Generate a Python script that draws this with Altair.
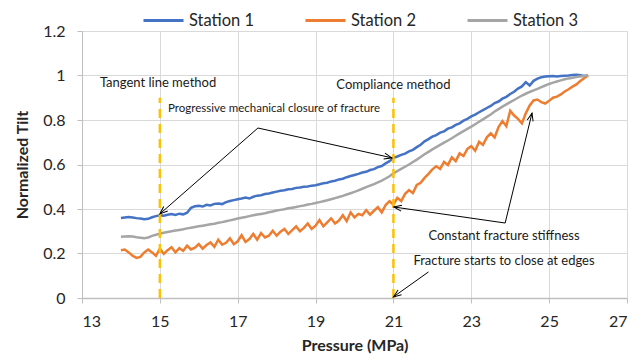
import math
import altair as alt
import pandas as pd

# ---------------- data ----------------
pressure = [round(14.0 + 0.1 * i, 1) for i in range(121)]

station1 = [
    0.360, 0.362, 0.364, 0.362, 0.359, 0.357, 0.354, 0.356, 0.363, 0.368,
    0.372, 0.370, 0.374, 0.377, 0.373, 0.379, 0.376, 0.383, 0.405, 0.412,
    0.414, 0.411, 0.419, 0.416, 0.423, 0.425, 0.422, 0.431, 0.436, 0.440,
    0.444, 0.447, 0.451, 0.447, 0.455, 0.460, 0.462, 0.467, 0.470, 0.474,
    0.478, 0.482, 0.484, 0.489, 0.490, 0.495, 0.497, 0.500, 0.501, 0.505,
    0.507, 0.511, 0.516, 0.518, 0.524, 0.527, 0.533, 0.536, 0.543, 0.548,
    0.553, 0.558, 0.564, 0.567, 0.575, 0.579, 0.588, 0.593, 0.605, 0.615,
    0.630, 0.636, 0.643, 0.649, 0.659, 0.666, 0.678, 0.689, 0.704, 0.714,
    0.725, 0.732, 0.743, 0.749, 0.761, 0.767, 0.778, 0.785, 0.797, 0.805,
    0.816, 0.824, 0.835, 0.844, 0.854, 0.863, 0.876, 0.883, 0.896, 0.904,
    0.917, 0.927, 0.941, 0.951, 0.970, 0.955, 0.976, 0.986, 0.992, 0.995,
    0.997, 0.998, 0.996, 0.998, 0.999, 1.000, 1.002, 1.003, 1.001, 0.998,
    1.000,
]

station2 = [
    0.215, 0.218, 0.205, 0.190, 0.180, 0.185, 0.205, 0.218, 0.205, 0.190,
    0.222, 0.198, 0.215, 0.228, 0.205, 0.224, 0.212, 0.235, 0.218, 0.226,
    0.242, 0.222, 0.238, 0.250, 0.230, 0.262, 0.240, 0.248, 0.268, 0.242,
    0.255, 0.282, 0.252, 0.265, 0.288, 0.262, 0.292, 0.272, 0.280, 0.302,
    0.280, 0.298, 0.310, 0.288, 0.305, 0.322, 0.300, 0.315, 0.335, 0.310,
    0.325, 0.350, 0.322, 0.340, 0.358, 0.335, 0.348, 0.372, 0.345, 0.385,
    0.362, 0.378, 0.372, 0.395, 0.375, 0.392, 0.408, 0.385, 0.418, 0.435,
    0.420, 0.450, 0.436, 0.468, 0.485, 0.472, 0.508, 0.518, 0.540, 0.558,
    0.578, 0.592, 0.580, 0.612, 0.598, 0.632, 0.615, 0.650, 0.638, 0.670,
    0.682, 0.662, 0.702, 0.688, 0.722, 0.740, 0.722, 0.768, 0.795, 0.772,
    0.842, 0.820, 0.805, 0.785, 0.830, 0.865, 0.888, 0.892, 0.880, 0.874,
    0.886, 0.900, 0.905, 0.915, 0.928, 0.938, 0.950, 0.960, 0.975, 0.988,
    1.000,
]

station3 = [
    0.275, 0.276, 0.277, 0.276, 0.273, 0.271, 0.269, 0.272, 0.279, 0.284,
    0.289, 0.293, 0.297, 0.300, 0.303, 0.306, 0.309, 0.313, 0.316, 0.319,
    0.322, 0.325, 0.328, 0.331, 0.334, 0.338, 0.341, 0.345, 0.349, 0.353,
    0.357, 0.361, 0.364, 0.368, 0.372, 0.375, 0.378, 0.381, 0.385, 0.389,
    0.393, 0.396, 0.399, 0.403, 0.406, 0.409, 0.413, 0.416, 0.420, 0.423,
    0.427, 0.431, 0.435, 0.439, 0.444, 0.449, 0.454, 0.459, 0.465, 0.471,
    0.477, 0.484, 0.491, 0.498, 0.505, 0.512, 0.520, 0.528, 0.537, 0.547,
    0.560, 0.570, 0.580, 0.590, 0.600, 0.611, 0.622, 0.634, 0.646, 0.657,
    0.668, 0.678, 0.688, 0.698, 0.708, 0.718, 0.729, 0.740, 0.750, 0.760,
    0.770, 0.781, 0.792, 0.803, 0.814, 0.825, 0.838, 0.849, 0.860, 0.870,
    0.880, 0.890, 0.900, 0.910, 0.918, 0.926, 0.933, 0.940, 0.948, 0.955,
    0.962, 0.968, 0.973, 0.978, 0.983, 0.987, 0.990, 0.993, 0.996, 0.998,
    1.000,
]

series_names = ["Station 1", "Station 2", "Station 3"]
series_colors = ["#4472C4", "#ED7D31", "#A5A5A5"]

x_ticks = [13, 15, 17, 19, 21, 23, 25, 27]
y_ticks = [0, 0.2, 0.4, 0.6, 0.8, 1.0, 1.2]

# vertical dashed marker lines
marker_x = [15, 21]
marker_top = [0.9, 0.9]

# annotation texts
note_text = ["Tangent line method", "Compliance method",
             "Progressive mechanical closure of fracture",
             "Constant fracture stiffness",
             "Fracture starts to close at edges"]
note_x = [13.46, 21.0, 15.21, 23.84, 23.84]
note_y = [0.966, 0.957, 0.849, 0.279, 0.166]
note_align = ["left", "center", "left", "center", "center"]
note_size = [13, 13, 11.5, 13, 13]

# arrows (tail -> head)
arrow_x1 = [17.52, 17.52, 23.87, 23.87, 21.90]
arrow_y1 = [0.764, 0.764, 0.337, 0.337, 0.117]
arrow_x2 = [15.00, 20.96, 21.01, 24.56, 21.00]
arrow_y2 = [0.378, 0.630, 0.409, 0.831, 0.005]

# ---------------- layout ----------------
W, H = 545, 267
X_DOM = [13, 27]
Y_DOM = [0, 1.2]

rows = []
for name, vals in zip(series_names, [station1, station2, station3]):
    for p, v in zip(pressure, vals):
        rows.append({"pressure": p, "value": v, "station": name})
lines_df = pd.DataFrame(rows)

markers_df = pd.DataFrame({"x": marker_x, "y0": [0, 0], "y1": marker_top})
notes_df = pd.DataFrame({"x": note_x, "y": note_y, "text": note_text,
                         "align": note_align, "size": note_size})

px_x = W / (X_DOM[1] - X_DOM[0])
px_y = H / (Y_DOM[1] - Y_DOM[0])
angles = []
for a, b, c, d in zip(arrow_x1, arrow_y1, arrow_x2, arrow_y2):
    dx = (c - a) * px_x
    dy = -(d - b) * px_y
    angles.append(math.degrees(math.atan2(dx, -dy)) % 360)
arrows_df = pd.DataFrame({"x1": arrow_x1, "y1": arrow_y1, "x2": arrow_x2,
                          "y2": arrow_y2, "angle": angles})

FONT = "Lato"
xs = alt.Scale(domain=X_DOM, nice=False, zero=False)
ys = alt.Scale(domain=Y_DOM, nice=False)

lines = alt.Chart(lines_df).mark_line(strokeWidth=2.5).encode(
    x=alt.X("pressure:Q", scale=xs,
            axis=alt.Axis(values=x_ticks, title="Pressure (MPa)", format="d")),
    y=alt.Y("value:Q", scale=ys,
            axis=alt.Axis(values=y_ticks, title="Normalized Tilt", format="~g")),
    color=alt.Color("station:N",
                    scale=alt.Scale(domain=series_names, range=series_colors),
                    legend=alt.Legend(title=None, orient="none", direction="horizontal",
                                      legendX=60, legendY=-32, symbolType="stroke",
                                      symbolSize=1600, symbolStrokeWidth=3,
                                      labelFontSize=16.5, labelFont=FONT,
                                      labelColor="#262626", labelOffset=4,
                                      columnPadding=44)),
)

dashes = alt.Chart(markers_df).mark_rule(color="#FFC000", strokeWidth=2.5,
                                         strokeDash=[9, 6]).encode(
    x=alt.X("x:Q", scale=xs), y=alt.Y("y0:Q", scale=ys), y2="y1:Q")

arrow_lines = alt.Chart(arrows_df).mark_rule(color="black", strokeWidth=1).encode(
    x=alt.X("x1:Q", scale=xs), y=alt.Y("y1:Q", scale=ys), x2="x2:Q", y2="y2:Q")

arrow_heads = alt.Chart(arrows_df).mark_point(
    shape="M -1 2.6 L 0 0 L 1 2.6", size=36, filled=False,
    color="black", strokeWidth=1, opacity=1).encode(
    x=alt.X("x2:Q", scale=xs), y=alt.Y("y2:Q", scale=ys),
    angle=alt.Angle("angle:Q", scale=None))

text_layers = []
for al in ["left", "center"]:
    for sz in sorted(set(note_size)):
        sub = notes_df[(notes_df["align"] == al) & (notes_df["size"] == sz)]
        if len(sub) == 0:
            continue
        text_layers.append(
            alt.Chart(sub).mark_text(align=al, baseline="middle", fontSize=sz,
                                     font=FONT, color="#1a1a1a").encode(
                x=alt.X("x:Q", scale=xs), y=alt.Y("y:Q", scale=ys), text="text:N"))

chart = alt.layer(lines, dashes, arrow_lines, arrow_heads, *text_layers).properties(
    width=W, height=H,
    autosize=alt.AutoSizeParams(type="none"),
    padding={"left": 82, "top": 31, "right": 17, "bottom": 62},
).configure_view(stroke=None).configure_axis(
    labelFont=FONT, titleFont=FONT, labelFontSize=16, titleFontSize=16,
    titleFontWeight="bold", labelColor="#262626", titleColor="#262626",
    gridColor="#D9D9D9", gridWidth=1, domainColor="#BFBFBF", tickColor="#BFBFBF",
    tickSize=5,
).configure_axisX(
    labelPadding=10, titlePadding=8, domainWidth=1.5,
).configure_axisY(
    labelPadding=12, titlePadding=12,
)

chart.save("out.html", embed_options={"renderer": "svg", "actions": False})
